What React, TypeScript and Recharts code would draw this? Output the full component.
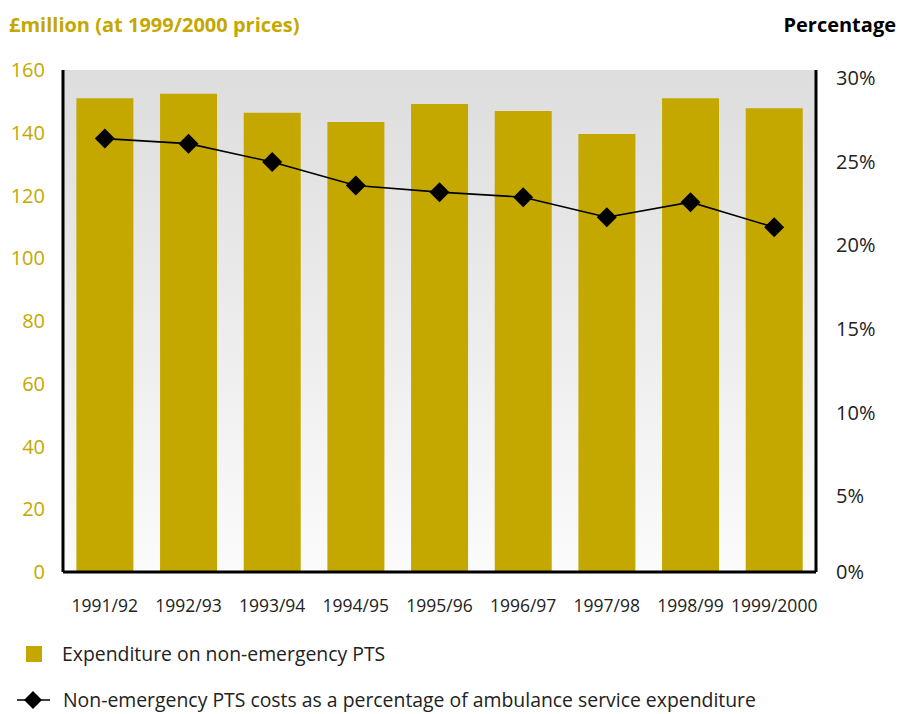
import React from "react";
import { ComposedChart, Bar, Line, XAxis, YAxis, CartesianGrid } from "recharts";

const years = [
  "1991/92",
  "1992/93",
  "1993/94",
  "1994/95",
  "1995/96",
  "1996/97",
  "1997/98",
  "1998/99",
  "1999/2000",
];
const expenditure = [151.0, 152.4, 146.4, 143.4, 149.2, 146.9, 139.6, 151.0, 147.8];
const percentOfAmbulance = [25.9, 25.6, 24.5, 23.1, 22.7, 22.4, 21.2, 22.1, 20.6];
const leftTicks = [0, 20, 40, 60, 80, 100, 120, 140, 160];
const rightTicks = [0, 5, 10, 15, 20, 25, 30];

const GOLD = "#C4A800";
const FONT = "'Open Sans', 'Noto Sans', sans-serif";

const data = years.map((year, i) => ({
  year,
  expenditure: expenditure[i],
  percent: percentOfAmbulance[i],
}));

function Diamond(props: any) {
  const { cx, cy } = props;
  if (cx == null || cy == null) return null;
  const r = 10;
  return (
    <polygon
      points={`${cx},${cy - r} ${cx + r},${cy} ${cx},${cy + r} ${cx - r},${cy}`}
      fill="#000"
    />
  );
}

function RightTick(props: any) {
  const { x, y, payload } = props;
  const shift = payload.value === 0 ? 0 : 8;
  return (
    <text x={x} y={y + shift} dy="0.355em" textAnchor="start" fill="#222" fontSize={20} fontFamily={FONT}>
      {payload.value}%
    </text>
  );
}

export default function App() {
  return (
    <div style={{ position: "absolute", left: 0, top: 0, width: 898, height: 714, background: "#fff", fontFamily: FONT, overflow: "hidden" }}>
      <div style={{ position: "absolute", left: 9, top: 10, color: GOLD, fontWeight: 700, fontSize: 20, lineHeight: "30px" }}>
        £million (at 1999/2000 prices)
      </div>
      <div style={{ position: "absolute", right: 2, top: 10, color: "#000", fontWeight: 700, fontSize: 20, lineHeight: "30px" }}>
        Percentage
      </div>

      <ComposedChart
        width={898}
        height={640}
        data={data}
        margin={{ top: 70, right: 0, bottom: 0, left: 0 }}
        barCategoryGap="16%"
      >
        <defs>
          <linearGradient id="plotBg" x1="0" y1="0" x2="0" y2="1">
            <stop offset="0%" stopColor="#DDDDDD" />
            <stop offset="100%" stopColor="#FBFBFB" />
          </linearGradient>
        </defs>
        <CartesianGrid fill="url(#plotBg)" stroke="none" horizontal={false} vertical={false} />
        <XAxis
          dataKey="year"
          interval={0}
          tickLine={false}
          axisLine={{ stroke: "#000", strokeWidth: 3 }}
          tickMargin={22}
          height={68}
          tick={{ fill: "#222", fontSize: 17.5, fontFamily: FONT }}
        />
        <YAxis
          yAxisId="left"
          domain={[0, 160]}
          ticks={leftTicks}
          width={63}
          tickLine={false}
          axisLine={{ stroke: "#000", strokeWidth: 3 }}
          tickMargin={12}
          tick={{ fill: GOLD, fontSize: 20, fontFamily: FONT }}
        />
        <YAxis
          yAxisId="right"
          orientation="right"
          domain={[0, 30]}
          ticks={rightTicks}
          width={82}
          tickLine={false}
          axisLine={{ stroke: "#000", strokeWidth: 3 }}
          tickMargin={14}
          tick={<RightTick />}
        />
        <Bar yAxisId="left" dataKey="expenditure" fill={GOLD} isAnimationActive={false} />
        <Line
          yAxisId="right"
          dataKey="percent"
          stroke="#000"
          strokeWidth={1.6}
          dot={<Diamond />}
          activeDot={false}
          isAnimationActive={false}
        />
      </ComposedChart>

      <div style={{ position: "absolute", left: 26, top: 646, width: 16, height: 16, background: GOLD }} />
      <div style={{ position: "absolute", left: 62, top: 640, fontSize: 19.4, lineHeight: "28px", color: "#222" }}>
        Expenditure on non-emergency PTS
      </div>
      <svg style={{ position: "absolute", left: 0, top: 688 }} width={60} height={26}>
        <line x1={17} y1={12} x2={50} y2={12} stroke="#000" strokeWidth={1.6} />
        <polygon points="33,3 42,12 33,21 24,12" fill="#000" />
      </svg>
      <div style={{ position: "absolute", left: 63, top: 686, fontSize: 19.4, lineHeight: "28px", color: "#222", whiteSpace: "nowrap" }}>
        Non-emergency PTS costs as a percentage of ambulance service expenditure
      </div>
    </div>
  );
}
